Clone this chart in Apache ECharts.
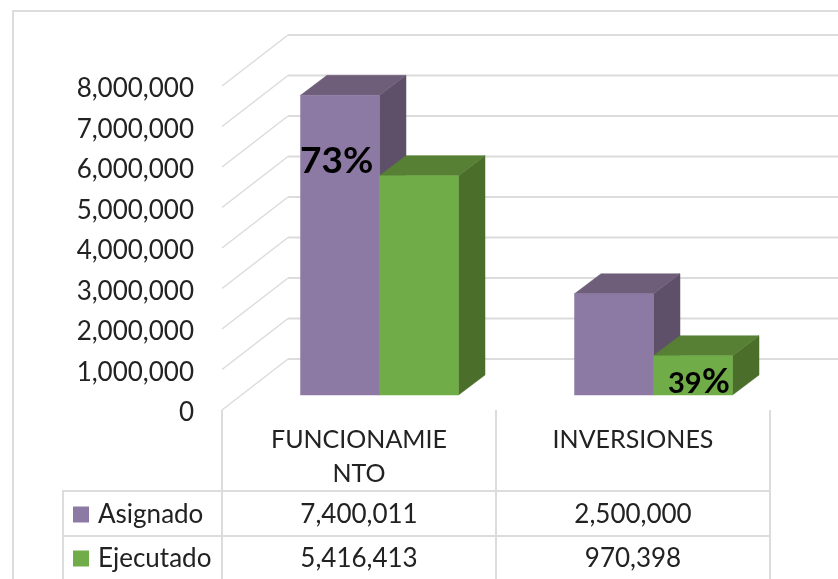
<!DOCTYPE html>
<html>
<head>
<meta charset="utf-8">
<style>html,body{margin:0;padding:0;background:#fff}#c{width:838px;height:579px}</style>
<script src="https://cdn.jsdelivr.net/npm/echarts@6/dist/echarts.min.js"></script>
</head>
<body>
<div id="c"></div>
<script>
var categories = ['FUNCIONAMIE\nNTO', 'INVERSIONES'];
var asignado = [7400011, 2500000];
var ejecutado = [5416413, 970398];
var ticks = [0, 1000000, 2000000, 3000000, 4000000, 5000000, 6000000, 7000000, 8000000];
var seriesNames = ['Asignado', 'Ejecutado'];
var pctLabel73 = '73%';
var pctLabel39 = ['39', '%'];

var FONT = 'Lato';
var TXT = '#222222';
var LINE = '#dcdcdc';
var faces = [
  {front: '#8d7aa4', top: '#6f5e7a', side: '#5f5069'},
  {front: '#70ac47', top: '#578035', side: '#4b6e2b'}
];
var fmt = function (v) { return Number(v).toLocaleString('en-US'); };

function poly(points, fill) {
  return {type: 'polygon', shape: {points: points}, style: {fill: fill, stroke: fill, lineWidth: 0.5}};
}

function barRenderer(idx) {
  return function (params, api) {
    var BW = 79, DX = 26.5, DY = 20, SX = 20.5, SY = 15;
    var p = api.coord([api.value(0), api.value(1)]);
    var b = api.coord([api.value(0), 0]);
    var x0 = p[0] + SX + (idx === 0 ? -BW : 0);
    var x1 = x0 + BW;
    var yt = p[1] - SY;
    var yb = b[1] - SY;
    var f = faces[idx];
    return {type: 'group', silent: true, children: [
      poly([[x1, yt], [x1 + DX, yt - DY], [x1 + DX, yb - DY], [x1, yb]], f.side),
      poly([[x0, yt], [x0 + DX, yt - DY], [x1 + DX, yt - DY], [x1, yt]], f.top),
      poly([[x0, yt], [x1, yt], [x1, yb], [x0, yb]], f.front),
      {type: 'text', style: {
        text: fmt(api.value(1)), x: p[0], y: idx === 0 ? 515 : 559,
        align: 'center', verticalAlign: 'middle',
        font: '26px ' + FONT, fill: TXT
      }}
    ]};
  };
}

function legendRow(name, top) {
  return {
    show: true, orient: 'vertical', left: 73, top: top,
    data: [name], selectedMode: false, icon: 'rect',
    itemWidth: 16, itemHeight: 16,
    textStyle: {fontFamily: FONT, fontSize: 26, color: TXT, lineHeight: 30, padding: [5, 0, 0, 4]},
    padding: 0
  };
}

var option = {
  animation: false,
  backgroundColor: '#ffffff',
  textStyle: {fontFamily: FONT},
  grid: {left: 222, right: 68, top: 86, bottom: 169, containLabel: false},
  legend: [legendRow(seriesNames[0], 497), legendRow(seriesNames[1], 541)],
  xAxis: {
    type: 'category', data: categories,
    axisLine: {show: false},
    axisTick: {show: true, alignWithLabel: false, length: 169, lineStyle: {color: LINE, width: 2}},
    axisLabel: {margin: 13, fontFamily: FONT, fontSize: 25, color: TXT, lineHeight: 34, verticalAlign: 'top', interval: 0},
    splitLine: {show: false}
  },
  yAxis: {
    type: 'value', min: 0, max: 8000000, interval: 1000000,
    axisLine: {show: false}, axisTick: {show: false}, splitLine: {show: false},
    axisLabel: {margin: 28, fontFamily: FONT, fontSize: 26, color: TXT, formatter: fmt, verticalAlign: 'top', lineHeight: 6}
  },
  graphic: [
    {type: 'polyline', silent: true, shape: {points: [[13, 579], [13, 11], [838, 11]]}, style: {stroke: LINE, lineWidth: 2, fill: null}},
    {type: 'polyline', silent: true, shape: {points: [[63, 579], [63, 491], [770, 491]]}, style: {stroke: LINE, lineWidth: 2, fill: null}},
    {type: 'line', silent: true, shape: {x1: 63, y1: 536, x2: 770, y2: 536}, style: {stroke: LINE, lineWidth: 2}}
  ],
  series: [
    {
      type: 'custom', name: 'walls', silent: true, z: 1,
      data: ticks.map(function (t) { return [0, t]; }),
      encode: {x: 0, y: 1},
      renderItem: function (params, api) {
        var p = api.coord([0, api.value(1)]);
        var band = api.size([1, 0])[0];
        var x0 = p[0] - band / 2, y0 = p[1];
        var bx = x0 + 66, by = y0 - 51;
        return {type: 'group', children: [
          {type: 'line', shape: {x1: x0, y1: y0, x2: bx, y2: by}, style: {stroke: LINE, lineWidth: 1.5}},
          {type: 'line', shape: {x1: bx, y1: by, x2: x0 + band * 2 + 68, y2: by}, style: {stroke: LINE, lineWidth: 2}}
        ]};
      }
    },
    {
      type: 'custom', name: seriesNames[0], z: 2, silent: true,
      itemStyle: {color: faces[0].front},
      data: asignado.map(function (v, i) { return [i, v]; }),
      encode: {x: 0, y: 1},
      renderItem: barRenderer(0)
    },
    {
      type: 'custom', name: seriesNames[1], z: 3, silent: true,
      itemStyle: {color: faces[1].front},
      data: ejecutado.map(function (v, i) { return [i, v]; }),
      encode: {x: 0, y: 1},
      renderItem: barRenderer(1)
    },
    {
      type: 'custom', name: 'pct', z: 4, silent: true,
      data: [[0, asignado[0]], [1, ejecutado[1]]],
      encode: {x: 0, y: 1},
      renderItem: function (params, api) {
        var p = api.coord([api.value(0), api.value(1)]);
        if (params.dataIndex === 0) {
          return {type: 'text', style: {
            text: pctLabel73, x: p[0] - 59, y: p[1] + 51,
            align: 'left', verticalAlign: 'middle',
            font: 'bold 37px ' + FONT, fill: '#000000'
          }};
        }
        return {type: 'group', children: [
          {type: 'text', style: {
            text: pctLabel39[0], x: p[0] + 35, y: p[1] + 13,
            align: 'left', verticalAlign: 'middle',
            font: 'bold 29px ' + FONT, fill: '#000000'
          }},
          {type: 'text', style: {
            text: pctLabel39[1], x: p[0] + 69, y: p[1] + 11,
            align: 'left', verticalAlign: 'middle',
            font: 'bold 34px ' + FONT, fill: '#000000'
          }}
        ]};
      }
    }
  ]
};
echarts.init(document.getElementById('c')).setOption(option);
</script>
</body>
</html>
